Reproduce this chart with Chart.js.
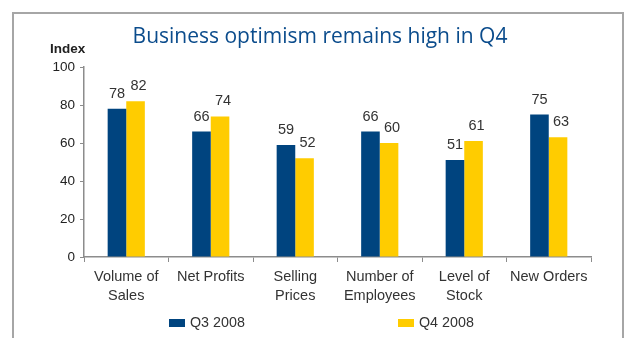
<!DOCTYPE html>
<html>
<head>
<meta charset="utf-8">
<script src="https://cdn.jsdelivr.net/npm/chart.js@4"></script>
<style>
  body { margin: 0; background: #fff; }
  #wrap { position: relative; width: 628px; height: 338px; }
  #frame {
    position: absolute; left: 12px; top: 12px; width: 608px; height: 330px;
    border: 2px solid #a6a6a6; border-bottom: none;
  }
  #chart { position: absolute; left: 0; top: 0; }
</style>
</head>
<body>
<div id="wrap">
  <div id="frame"></div>
  <canvas id="chart" width="628" height="338"></canvas>
</div>
<script>
// survey categories (multi-line labels)
const categories = [
  ["Volume of", "Sales"],
  ["Net Profits"],
  ["Selling", "Prices"],
  ["Number of", "Employees"],
  ["Level of", "Stock"],
  ["New Orders"]
];
const q3Values = [78, 66, 59, 66, 51, 75];
const q4Values = [82, 74, 52, 60, 61, 63];
const seriesNames = ["Q3 2008", "Q4 2008"];
const yTicks = [0, 20, 40, 60, 80, 100];

const BLUE = "#00447f";
const YELLOW = "#ffcc00";
const TEXT = "#333333";
const AXIS = "#8c8c8c";
const SANS = "'Liberation Sans', Arial, sans-serif";

// value labels above each bar
const barLabels = {
  id: "barLabels",
  afterDatasetsDraw(chart) {
    const ctx = chart.ctx;
    ctx.save();
    ctx.font = "14.5px " + SANS;
    ctx.fillStyle = TEXT;
    ctx.textAlign = "center";
    ctx.textBaseline = "middle";
    chart.data.datasets.forEach((ds, di) => {
      const meta = chart.getDatasetMeta(di);
      const dx = di === 1 ? 3 : 0;
      meta.data.forEach((bar, i) => {
        ctx.fillText(ds.data[i], bar.x + dx, bar.y - 15);
      });
    });
    ctx.restore();
  }
};

// title, "Index" caption and legend
const decorations = {
  id: "decorations",
  afterDraw(chart) {
    const ctx = chart.ctx;
    ctx.save();
    ctx.fillStyle = "#0b4c8c";
    ctx.font = "21px 'Open Sans', sans-serif";
    ctx.textAlign = "center";
    ctx.textBaseline = "middle";
    ctx.fillText("Business optimism remains high in Q4", 320, 37);

    ctx.fillStyle = "#222";
    ctx.font = "bold 13.5px " + SANS;
    ctx.textAlign = "left";
    ctx.fillText("Index", 50, 49);

    const legendX = [169, 398];
    ctx.font = "14.3px " + SANS;
    chart.data.datasets.forEach((ds, i) => {
      ctx.fillStyle = ds.backgroundColor;
      ctx.fillRect(legendX[i], 319, 16, 8);
      ctx.fillStyle = TEXT;
      ctx.fillText(ds.label, legendX[i] + 21, 323);
    });
    ctx.restore();
  }
};

new Chart(document.getElementById("chart"), {
  type: "bar",
  data: {
    labels: categories,
    datasets: [
      { label: seriesNames[0], data: q3Values, backgroundColor: BLUE },
      { label: seriesNames[1], data: q4Values, backgroundColor: YELLOW }
    ]
  },
  options: {
    responsive: false,
    animation: false,
    devicePixelRatio: 1,
    layout: { padding: { top: 67, right: 37, left: 0, bottom: 0 } },
    datasets: { bar: { categoryPercentage: 0.44, barPercentage: 1 } },
    plugins: {
      legend: { display: false },
      title: { display: false },
      tooltip: { enabled: false }
    },
    scales: {
      x: {
        afterFit(scale) { scale.height = 81; },
        grid: {
          offset: true,
          drawOnChartArea: false,
          color: AXIS,
          tickLength: 5
        },
        border: { color: AXIS, width: 1.5 },
        ticks: {
          color: TEXT,
          padding: 6,
          maxRotation: 0,
          autoSkip: false,
          font: { family: SANS, size: 14.5, lineHeight: 1.27 }
        }
      },
      y: {
        min: 0,
        max: 100,
        afterFit(scale) { scale.width = 84; },
        afterBuildTicks(scale) { scale.ticks = yTicks.map(v => ({ value: v })); },
        grid: {
          drawOnChartArea: false,
          color: AXIS,
          tickLength: 4
        },
        border: { color: AXIS, width: 1.5 },
        ticks: {
          color: "#222",
          padding: 5,
          font: { family: SANS, size: 13.5 }
        }
      }
    }
  },
  plugins: [barLabels, decorations]
});
</script>
</body>
</html>
